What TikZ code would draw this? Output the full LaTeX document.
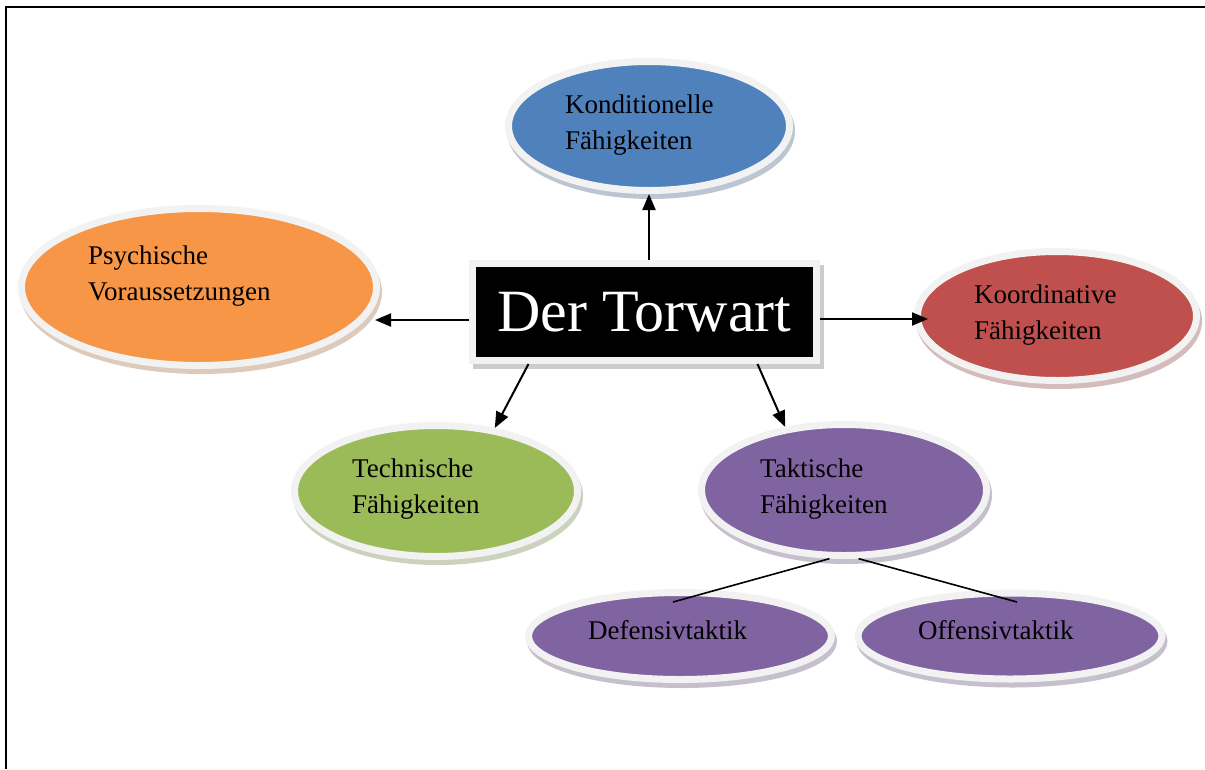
\documentclass[tikz,border=0pt]{standalone}
\usepackage{fontspec}
\setmainfont{Liberation Serif}
\usetikzlibrary{shapes.geometric,shadows,arrows.meta}
\definecolor{ring}{HTML}{F2F2F2}
\definecolor{kblue}{HTML}{4F81BD}
\definecolor{porange}{HTML}{F79646}
\definecolor{kred}{HTML}{C0504D}
\definecolor{tgreen}{HTML}{9BBB59}
\definecolor{tpurple}{HTML}{8064A2}

\begin{document}
\begin{tikzpicture}[x=1pt,y=-1pt,
  blob/.style={ellipse,fill=#1,draw=ring,line width=7pt,inner sep=0pt,
    drop shadow={shadow xshift=2pt,shadow yshift=-5pt,opacity=1,
      fill=#1!45!gray!45,draw=#1!45!gray!45,line width=7pt}},
  lbl/.style={align=left,anchor=base west,inner sep=0pt,
    font=\fontsize{27}{36}\selectfont},
  arr/.style={line width=2pt,-{Triangle[length=16pt,width=13pt]}},
  ln/.style={line width=1.6pt}]
\useasboundingbox (0,0) rectangle (1205,769);
\draw[line width=1.5pt] (6,769) -- (6,7) -- (1205,7);
% the centre
\node[rectangle,fill=black,draw=ring,line width=7pt,minimum width=344pt,
  minimum height=97pt,inner sep=0pt,text=white,
  font=\fontsize{60}{62}\selectfont,
  drop shadow={shadow xshift=4pt,shadow yshift=-5pt,opacity=1,
    fill=gray!40,draw=gray!40,line width=7pt}] (W) at (644.5,312) {Der Torwart};
% the ellipses
\node[blob=kblue,minimum width=281pt,minimum height=129pt] (K) at (649,126) {};
\node[blob=porange,minimum width=355pt,minimum height=157pt] (P) at (199,287) {};
\node[blob=kred,minimum width=279pt,minimum height=129pt] (Ko) at (1057,316) {};
\node[blob=tgreen,minimum width=283pt,minimum height=131pt] (Te) at (436,491) {};
\node[blob=tpurple,minimum width=285pt,minimum height=131pt] (Ta) at (844,490) {};
\node[blob=tpurple,minimum width=303pt,minimum height=87pt] (D) at (680,636) {};
\node[blob=tpurple,minimum width=304pt,minimum height=86pt] (O) at (1010,636) {};
\node[lbl] (Kt) at (565,149) {Konditionelle\\Fähigkeiten};
\node[lbl] (Pt) at (88,300) {Psychische\\Voraussetzungen};
\node[lbl] (Kot) at (974,339) {Koordinative\\Fähigkeiten};
\node[lbl] (Tet) at (352,513) {Technische\\Fähigkeiten};
\node[lbl] (Tat) at (760,513) {Taktische\\Fähigkeiten};
\node[lbl] (Dt) at (588,639) {Defensivtaktik};
\node[lbl] (Ot) at (918,639) {Offensivtaktik};
% connectors
\coordinate (p1) at (375,320);
\coordinate (k1) at (928,319);
\coordinate (w1) at ([xshift=-116pt]W.south);
\coordinate (w2) at ([xshift=113pt]W.south);
\coordinate (d1) at (673,602);
\coordinate (o1) at (1017,602);
\draw[arr] (W.north -| K.south) -- (K.south);
\draw[arr] (W.west |- p1) -- (p1);
\draw[arr] (W.east |- k1) -- (k1);
\draw[arr] (w1) -- (Te.47.5);
\draw[arr] (w2) -- (Ta.133.5);
\draw[ln] (Ta.-102) -- (d1);
\draw[ln] (Ta.-78) -- (o1);
\end{tikzpicture}
\end{document}
